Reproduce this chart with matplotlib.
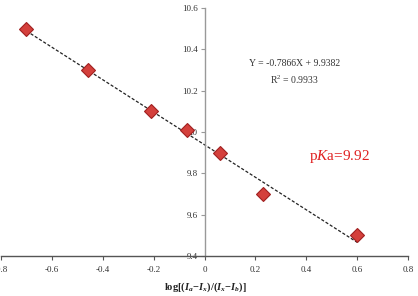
import numpy as np
import matplotlib
matplotlib.use("Agg")
import matplotlib.pyplot as plt

plt.rcParams['font.family'] = ['Liberation Serif', 'DejaVu Serif']
plt.rcParams['mathtext.fontset'] = 'custom'
plt.rcParams['mathtext.rm'] = 'Liberation Serif'
plt.rcParams['mathtext.it'] = 'Liberation Serif:italic'
plt.rcParams['mathtext.bf'] = 'Liberation Serif:bold'
plt.rcParams['mathtext.bfit'] = 'Liberation Serif:bold:italic'

# data
x_vals = [-0.70, -0.46, -0.21, -0.07, 0.06, 0.23, 0.60]
y_vals = [10.50, 10.30, 10.10, 10.01, 9.90, 9.70, 9.50]
slope = -0.7866
intercept = 9.9382
eq_text = "Y = -0.7866X + 9.9382"
r2_text = "R$^2$ = 0.9933"
pka_text = "p$\\mathit{K}$a=9.92"
x_ticks = [-0.8, -0.6, -0.4, -0.2, 0, 0.2, 0.4, 0.6, 0.8]
x_ticklabels = ["-0.8", "-0.6", "-0.4", "-0.2", "0", "0.2", "0.4", "0.6", "0.8"]
y_ticks = [9.4, 9.6, 9.8, 10.0, 10.2, 10.4, 10.6]
y_ticklabels = ["9.4", "9.6", "9.8", "10", "10.2", "10.4", "10.6"]

fig = plt.figure(figsize=(4.18, 2.96), dpi=100)
ax = fig.add_axes([0.0024, 0.135, 0.974, 0.838])

fit_x = np.array([min(x_vals), max(x_vals)])
ax.plot(fit_x, slope * fit_x + intercept, color='#222222', lw=0.9,
        ls=(0, (2.5, 1.5)), zorder=2)
ax.plot(x_vals, y_vals, ls='none', marker='D', ms=7, mfc='#d4403c',
        mec='#a02020', mew=0.8, zorder=3)

ax.set_xlim(-0.8, 0.8)
ax.set_ylim(9.4, 10.6)
ax.set_xticks(x_ticks)
ax.set_xticklabels(x_ticklabels)
ax.set_yticks(y_ticks)
ax.set_yticklabels(y_ticklabels)

for s in ['top', 'right']:
    ax.spines[s].set_visible(False)
ax.spines['left'].set_position(('data', 0))
ax.spines['left'].set_color('#999999')
ax.spines['bottom'].set_color('#555555')
ax.spines['left'].set_linewidth(1.0)
ax.spines['bottom'].set_linewidth(1.0)
ax.tick_params(axis='y', direction='out', length=3, width=0.8, colors='#999999',
               labelsize=6.5, labelcolor='#333333', pad=2)
ax.tick_params(axis='x', direction='out', length=3, width=0.8, colors='#555555',
               labelsize=6.5, labelcolor='#333333', pad=4)
ax.patch.set_alpha(0)

ax.text(0.353, 10.33, eq_text, ha='center', va='center', fontsize=7, color='#333333')
ax.text(0.353, 10.253, r2_text, ha='center', va='center', fontsize=7, color='#333333')
ax.text(0.53, 9.88, pka_text, ha='center', va='center', fontsize=11, color='#e02020')

fig.text(205 / 418, 1 - 287 / 296,
         r"$\mathbf{log[(}\mathbfit{I}_{\mathbfit{a}}\mathbf{-}\mathbfit{I}_{\mathbfit{x}}\mathbf{)/(}\mathbfit{I}_{\mathbfit{x}}\mathbf{-}\mathbfit{I}_{\mathbfit{b}}\mathbf{)]}$",
         ha='center', va='center', fontsize=7.6, color='#222222')

fig.savefig("out.png", dpi=100)
